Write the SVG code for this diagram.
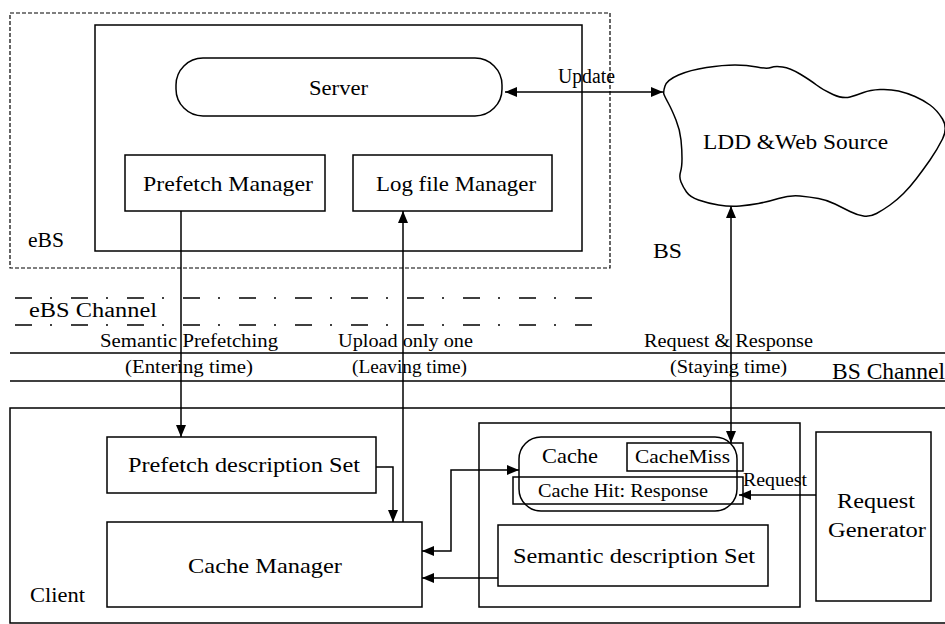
<svg xmlns="http://www.w3.org/2000/svg" width="945" height="624" viewBox="0 0 945 624">
<style>
  .box{fill:none;stroke:#000;stroke-width:1.5}
  .t{font-family:"Liberation Serif","Times New Roman",serif;fill:#000}
  .ln{stroke:#000;stroke-width:1.5;fill:none}
  .dd{stroke:#000;stroke-width:1.5;fill:none;stroke-dasharray:17 18 2 19}
</style>
<defs>
  <marker id="ah" markerUnits="userSpaceOnUse" markerWidth="12" markerHeight="10" viewBox="0 0 12 10" refX="12" refY="5" orient="auto-start-reverse">
    <path d="M0,0 L12,5 L0,10 Z" fill="#000"/>
  </marker>
</defs>
<rect width="945" height="624" fill="#fff"/>

<g id="ebs">
  <rect x="10" y="13" width="600" height="255" fill="none" stroke="#000" stroke-width="1.2" stroke-dasharray="4 2"/>
  <text class="t" x="28" y="247" font-size="21" textLength="36" lengthAdjust="spacingAndGlyphs">eBS</text>
</g>
<g id="server-frame">
  <rect class="box" x="95" y="25" width="487" height="226"/>
</g>
<g id="server">
  <rect class="box" x="176" y="58" width="326" height="58" rx="27" ry="27"/>
  <text class="t" x="309" y="95" font-size="22" textLength="59" lengthAdjust="spacingAndGlyphs">Server</text>
</g>
<g id="prefetch-manager">
  <rect class="box" x="125" y="155" width="200" height="56"/>
  <text class="t" x="143" y="191" font-size="22" textLength="170" lengthAdjust="spacingAndGlyphs">Prefetch Manager</text>
</g>
<g id="logfile-manager">
  <rect class="box" x="353" y="155" width="199" height="56"/>
  <text class="t" x="376" y="191" font-size="22" textLength="160" lengthAdjust="spacingAndGlyphs">Log file Manager</text>
</g>
<g id="ldd-web-source">
  <path class="box" d="M664,94.5 Q663,92 665,86 Q667,80 678.5,75 Q690,70 706.5,67.5 Q723,65 735,65 Q747,65 757,67 Q767,69 771,67.5 Q775,66 782.5,67 Q790,68 800,74 Q810,80 816.5,85 Q823,90 833,94.5 Q843,99 850,97 Q857,95 863.5,92.5 Q870,90 880,89.5 Q890,89 898.5,91 Q907,93 915,96.5 Q923,100 930,105 Q937,110 942.5,119 Q948,128 942.5,139 Q937,150 930,160 Q923,170 916.5,178.5 Q910,187 903.5,193.5 Q897,200 890,205 Q883,210 876.5,213.5 Q870,217 863.5,216 Q857,215 850,211.5 Q843,208 835,204 Q827,200 818.5,198.5 Q810,197 800,196 Q790,195 778.5,198.5 Q767,202 758.5,203.5 Q750,205 740,206 Q730,207 718.5,205 Q707,203 698.5,200 Q690,197 686.5,192 Q683,187 681,182 Q679,177 680.5,172 Q682,167 682,158.5 Q682,150 681,140 Q680,130 676,120 Q672,110 668.5,103.5 Q665,97 664,94.5 Z"/>
  <text class="t" x="703" y="149" font-size="22" textLength="185" lengthAdjust="spacingAndGlyphs">LDD &amp;Web Source</text>
</g>
<g id="bs-label">
  <text class="t" x="653" y="258" font-size="21" textLength="29" lengthAdjust="spacingAndGlyphs">BS</text>
</g>

<g id="ebs-channel">
  <line class="dd" x1="15" y1="298" x2="600" y2="298"/>
  <line class="dd" x1="15" y1="325" x2="600" y2="325"/>
  <text class="t" x="29" y="317" font-size="20" textLength="128" lengthAdjust="spacingAndGlyphs">eBS Channel</text>
</g>
<g id="bs-channel">
  <line class="ln" x1="10" y1="353" x2="945" y2="353"/>
  <line class="ln" x1="10" y1="381" x2="945" y2="381"/>
  <text class="t" x="832" y="379" font-size="23" textLength="113" lengthAdjust="spacingAndGlyphs">BS Channel</text>
</g>

<g id="client">
  <rect class="box" x="10" y="408" width="950" height="215"/>
  <text class="t" x="30" y="602" font-size="21" textLength="55" lengthAdjust="spacingAndGlyphs">Client</text>
</g>
<g id="prefetch-description-set">
  <rect class="box" x="107" y="437" width="269" height="56"/>
  <text class="t" x="128" y="472" font-size="22" textLength="232" lengthAdjust="spacingAndGlyphs">Prefetch description Set</text>
</g>
<g id="cache-manager">
  <rect class="box" x="107" y="522" width="315" height="85"/>
  <text class="t" x="188" y="573" font-size="22" textLength="154" lengthAdjust="spacingAndGlyphs">Cache Manager</text>
</g>
<g id="cache-frame">
  <rect class="box" x="479" y="423" width="321" height="184"/>
</g>
<g id="cache">
  <rect class="box" x="519" y="437" width="218" height="74" rx="22" ry="22"/>
  <text class="t" x="542" y="463" font-size="21" textLength="56" lengthAdjust="spacingAndGlyphs">Cache</text>
</g>
<g id="cache-miss">
  <rect class="box" x="627" y="443" width="116" height="28"/>
  <text class="t" x="635" y="463" font-size="19" textLength="95" lengthAdjust="spacingAndGlyphs">CacheMiss</text>
</g>
<g id="cache-hit">
  <rect class="box" x="513" y="477" width="230" height="27"/>
  <text class="t" x="538" y="497" font-size="19" textLength="170" lengthAdjust="spacingAndGlyphs">Cache Hit: Response</text>
</g>
<g id="semantic-description-set">
  <rect class="box" x="498" y="525" width="270" height="61"/>
  <text class="t" x="513" y="563" font-size="22" textLength="242" lengthAdjust="spacingAndGlyphs">Semantic description Set</text>
</g>
<g id="request-generator">
  <rect class="box" x="816" y="432" width="115" height="169"/>
  <text class="t" x="837" y="508" font-size="22" textLength="78" lengthAdjust="spacingAndGlyphs">Request</text>
  <text class="t" x="828" y="537" font-size="22" textLength="98" lengthAdjust="spacingAndGlyphs">Generator</text>
</g>

<g id="connectors">
  <line class="ln" x1="505" y1="92" x2="663" y2="92" marker-start="url(#ah)" marker-end="url(#ah)"/>
  <text class="t" x="558" y="83" font-size="20" textLength="57" lengthAdjust="spacingAndGlyphs">Update</text>

  <line class="ln" x1="181" y1="211" x2="181" y2="437" marker-end="url(#ah)"/>
  <text class="t" x="100" y="347" font-size="19" textLength="178" lengthAdjust="spacingAndGlyphs">Semantic Prefetching</text>
  <text class="t" x="125" y="373" font-size="19" textLength="128" lengthAdjust="spacingAndGlyphs">(Entering time)</text>

  <line class="ln" x1="403" y1="522" x2="403" y2="211" marker-end="url(#ah)"/>
  <text class="t" x="338" y="347" font-size="19" textLength="135" lengthAdjust="spacingAndGlyphs">Upload only one</text>
  <text class="t" x="352" y="373" font-size="19" textLength="115" lengthAdjust="spacingAndGlyphs">(Leaving time)</text>

  <line class="ln" x1="731" y1="206" x2="731" y2="443" marker-start="url(#ah)" marker-end="url(#ah)"/>
  <text class="t" x="644" y="347" font-size="19" textLength="169" lengthAdjust="spacingAndGlyphs">Request &amp; Response</text>
  <text class="t" x="670" y="373" font-size="19" textLength="117" lengthAdjust="spacingAndGlyphs">(Staying time)</text>

  <polyline class="ln" points="376,467 393,467 393,522" marker-end="url(#ah)"/>
  <polyline class="ln" points="422,551 451,551 451,470 519,470" marker-start="url(#ah)" marker-end="url(#ah)"/>
  <line class="ln" x1="498" y1="578" x2="422" y2="578" marker-end="url(#ah)"/>
  <line class="ln" x1="816" y1="495" x2="739" y2="495" marker-end="url(#ah)"/>
  <text class="t" x="743" y="486" font-size="18" textLength="64" lengthAdjust="spacingAndGlyphs">Request</text>
</g>
</svg>
